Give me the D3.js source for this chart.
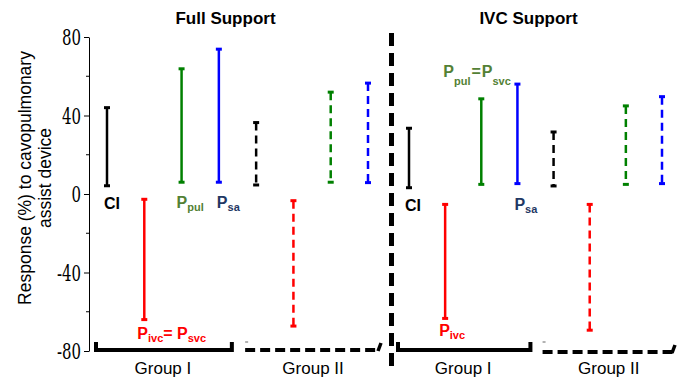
<!DOCTYPE html>
<html>
<head>
<meta charset="utf-8">
<script src="https://cdn.jsdelivr.net/npm/d3@7"></script>
<style>
  html, body { margin: 0; padding: 0; background: #fff; }
  svg { display: block; }
</style>
</head>
<body>
<svg id="chart" width="686" height="379"></svg>
<script>
// Response ranges (%) for each measure, Group I (solid) then Group II (dashed)
const supports = ["Full Support", "IVC Support"];
const groups = ["Group I", "Group II"];
const measures = ["CI", "Pivc", "Ppul", "Psa"];
const fullSupportLow  = [4.2, -64.0, 6.0, 6.0, 4.6, -67.3, 6.0, 5.8];
const fullSupportHigh = [44.0, -2.7, 63.8, 73.8, 36.4, -3.4, 51.9, 56.5];
const ivcSupportLow   = [3.2, -63.4, 4.9, 5.3, 4.1, -69.4, 4.9, 5.3];
const ivcSupportHigh  = [33.5, -5.3, 48.5, 56.0, 31.6, -5.3, 44.9, 49.6];
const majorTicks = [-80, -40, 0, 40, 80];
const minorTicks = [-60, -20, 20, 60];

const colors = { CI: "#000000", Pivc: "#ff0000", Ppul: "#008000", Psa: "#0000ff" };
const labelColors = { CI: "#000000", Pivc: "#ff0000", Ppul: "#538135", Psa: "#1f3864" };
const SANS = "Arial, 'Liberation Sans', sans-serif";
const SERIF = "'DejaVu Serif Condensed', 'DejaVu Serif', serif";

const svg = d3.select("#chart").attr("font-family", SANS);

const y = d3.scaleLinear().domain([-80, 80]).range([351, 37]);

// one point scale per support panel, 8 slots (4 measures x 2 groups)
const slots = d3.range(8);
const panelRanges = { "Full Support": [107, 368], "IVC Support": [409, 662] };
const xPanel = {};
supports.forEach(s => {
  xPanel[s] = d3.scalePoint().domain(slots).range(panelRanges[s]);
});

// y axis: tall, narrow serif numerals with a plain hyphen minus
const axisX = 89;
const gAxis = svg.append("g").attr("transform", `translate(${axisX},0)`);
gAxis.call(d3.axisLeft(y).tickValues(majorTicks).tickFormat(d => String(d))
  .tickSize(5).tickPadding(3).tickSizeOuter(0));
gAxis.attr("font-family", SERIF).attr("font-size", 22);
gAxis.selectAll(".tick text")
  .style("font-family", SERIF)
  .attr("dy", "0.36em")
  .attr("fill", "#000")
  .attr("lengthAdjust", "spacingAndGlyphs")
  .attr("textLength", d => String(Math.abs(d)).length * 9.5 + (d < 0 ? 5 : 0));
gAxis.select(".domain").attr("stroke", "#000").attr("stroke-width", 1);
gAxis.selectAll(".tick line").attr("stroke", "#000");
gAxis.selectAll(".minor").data(minorTicks).enter().append("line")
  .attr("x1", -3).attr("x2", 0)
  .attr("y1", d => y(d)).attr("y2", d => y(d))
  .attr("stroke", "#000").attr("stroke-width", 1);

// y axis title
const yTitle = svg.append("text")
  .attr("transform", "translate(0,178) rotate(-90)")
  .attr("text-anchor", "middle")
  .attr("font-size", "17.5px")
  .attr("fill", "#000");
yTitle.append("tspan").attr("x", 0).attr("y", 31).text("Response (%) to cavopulmonary");
yTitle.append("tspan").attr("x", 0).attr("y", 51).text("assist device");

// panel titles
supports.forEach(s => {
  const xs = xPanel[s];
  svg.append("text")
    .attr("x", (xs(0) + xs(7)) / 2 + (s === "Full Support" ? -12 : -7))
    .attr("y", 24)
    .attr("text-anchor", "middle")
    .attr("font-size", "17px")
    .attr("font-weight", "bold")
    .text(s);
});

// range bars with end caps
const rows = [];
supports.forEach(s => {
  const lo = s === "Full Support" ? fullSupportLow : ivcSupportLow;
  const hi = s === "Full Support" ? fullSupportHigh : ivcSupportHigh;
  slots.forEach(i => {
    rows.push({ support: s, slot: i, measure: measures[i % 4], group: groups[Math.floor(i / 4)], low: lo[i], high: hi[i] });
  });
});

const bars = svg.append("g").selectAll("g").data(rows).enter().append("g");
bars.append("line")
  .attr("x1", d => xPanel[d.support](d.slot))
  .attr("x2", d => xPanel[d.support](d.slot))
  .attr("y1", d => y(d.high))
  .attr("y2", d => y(d.low))
  .attr("stroke", d => colors[d.measure])
  .attr("stroke-width", 2.5)
  .attr("stroke-dasharray", d => d.group === "Group II" ? "8,5" : null);
["high", "low"].forEach(k => {
  bars.append("line")
    .attr("x1", d => xPanel[d.support](d.slot) - 3)
    .attr("x2", d => xPanel[d.support](d.slot) + 3)
    .attr("y1", d => y(d[k]))
    .attr("y2", d => y(d[k]))
    .attr("stroke", d => colors[d.measure])
    .attr("stroke-width", 3);
});

// measure labels with subscripts
function label(x, yy, parts, color) {
  const t = svg.append("text")
    .attr("x", x).attr("y", yy)
    .attr("fill", color)
    .attr("font-weight", "bold")
    .attr("font-size", "16px");
  parts.forEach(p => {
    const ts = t.append("tspan").text(p.t);
    if (p.sub) ts.attr("font-size", "11px");
    if (p.dy !== undefined) ts.attr("dy", p.dy);
    if (p.dx !== undefined) ts.attr("dx", p.dx);
  });
  return t;
}
const xF = xPanel["Full Support"], xI = xPanel["IVC Support"];
// Full Support
label(xF(0) - 3, y(fullSupportLow[0]) + 23, [{ t: "CI" }], labelColors.CI);
label(xF(2) - 5, y(fullSupportLow[2]) + 26, [{ t: "P" }, { t: "pul", sub: true, dy: 3 }], labelColors.Ppul);
label(xF(3) - 2, y(fullSupportLow[3]) + 26, [{ t: "P" }, { t: "sa", sub: true, dy: 3 }], labelColors.Psa);
label(xF(1) - 7, y(fullSupportLow[1]) + 19,
  [{ t: "P" }, { t: "ivc", sub: true, dy: 3 }, { t: "= ", dy: -3 }, { t: "P" }, { t: "svc", sub: true, dy: 3 }],
  labelColors.Pivc);
// IVC Support
label(xI(0) - 4, y(ivcSupportLow[0]) + 23, [{ t: "CI" }], labelColors.CI);
label(xI(3) - 3, y(ivcSupportLow[3]) + 26, [{ t: "P" }, { t: "sa", sub: true, dy: 3 }], labelColors.Psa);
label(xI(1) - 6, y(ivcSupportLow[1]) + 18, [{ t: "P" }, { t: "ivc", sub: true, dy: 3 }], labelColors.Pivc);
label(xI(2) - 38, y(ivcSupportHigh[2]) - 22,
  [{ t: "P" }, { t: "pul", sub: true, dy: 8 }, { t: "=", dy: -8, dx: 1 }, { t: "P", dx: 1 }, { t: "svc", sub: true, dy: 8 }],
  labelColors.Ppul);

// group brackets
const bracketY = 350, tickTop = 342;
supports.forEach(s => {
  const xs = xPanel[s];
  groups.forEach((g, gi) => {
    const x0 = xs(gi * 4) - 11, x1 = xs(gi * 4 + 3) + 13;
    const by = bracketY + (s === "IVC Support" && gi === 1 ? 2 : 0);
    if (gi === 0) {
      svg.append("path")
        .attr("d", `M${x0},${tickTop}V${by}H${x1}V${tickTop}`)
        .attr("fill", "none").attr("stroke", "#000").attr("stroke-width", 4);
    } else {
      svg.append("path")
        .attr("d", `M${x0},${by}H${x1 - 2}`)
        .attr("fill", "none").attr("stroke", "#000").attr("stroke-width", 4)
        .attr("stroke-dasharray", "10,5");
      svg.append("path")
        .attr("d", `M${x1 - 3},${by + 1}L${x1},${by - 7}`)
        .attr("fill", "none").attr("stroke", "#000").attr("stroke-width", 3.5);
      svg.append("line")
        .attr("x1", x0).attr("x2", x0 + 3)
        .attr("y1", tickTop).attr("y2", tickTop)
        .attr("stroke", "#666").attr("stroke-width", 1);
    }
    svg.append("text")
      .attr("x", (x0 + x1) / 2 + (gi === 0 ? -1 : 0))
      .attr("y", 374)
      .attr("text-anchor", "middle")
      .attr("font-size", "17px")
      .text(g);
  });
});

// divider between the two support modes
svg.append("line")
  .attr("x1", 391.5).attr("x2", 391.5)
  .attr("y1", 33).attr("y2", 372)
  .attr("stroke", "#000").attr("stroke-width", 5)
  .attr("stroke-dasharray", "13,7");
</script>
</body>
</html>
